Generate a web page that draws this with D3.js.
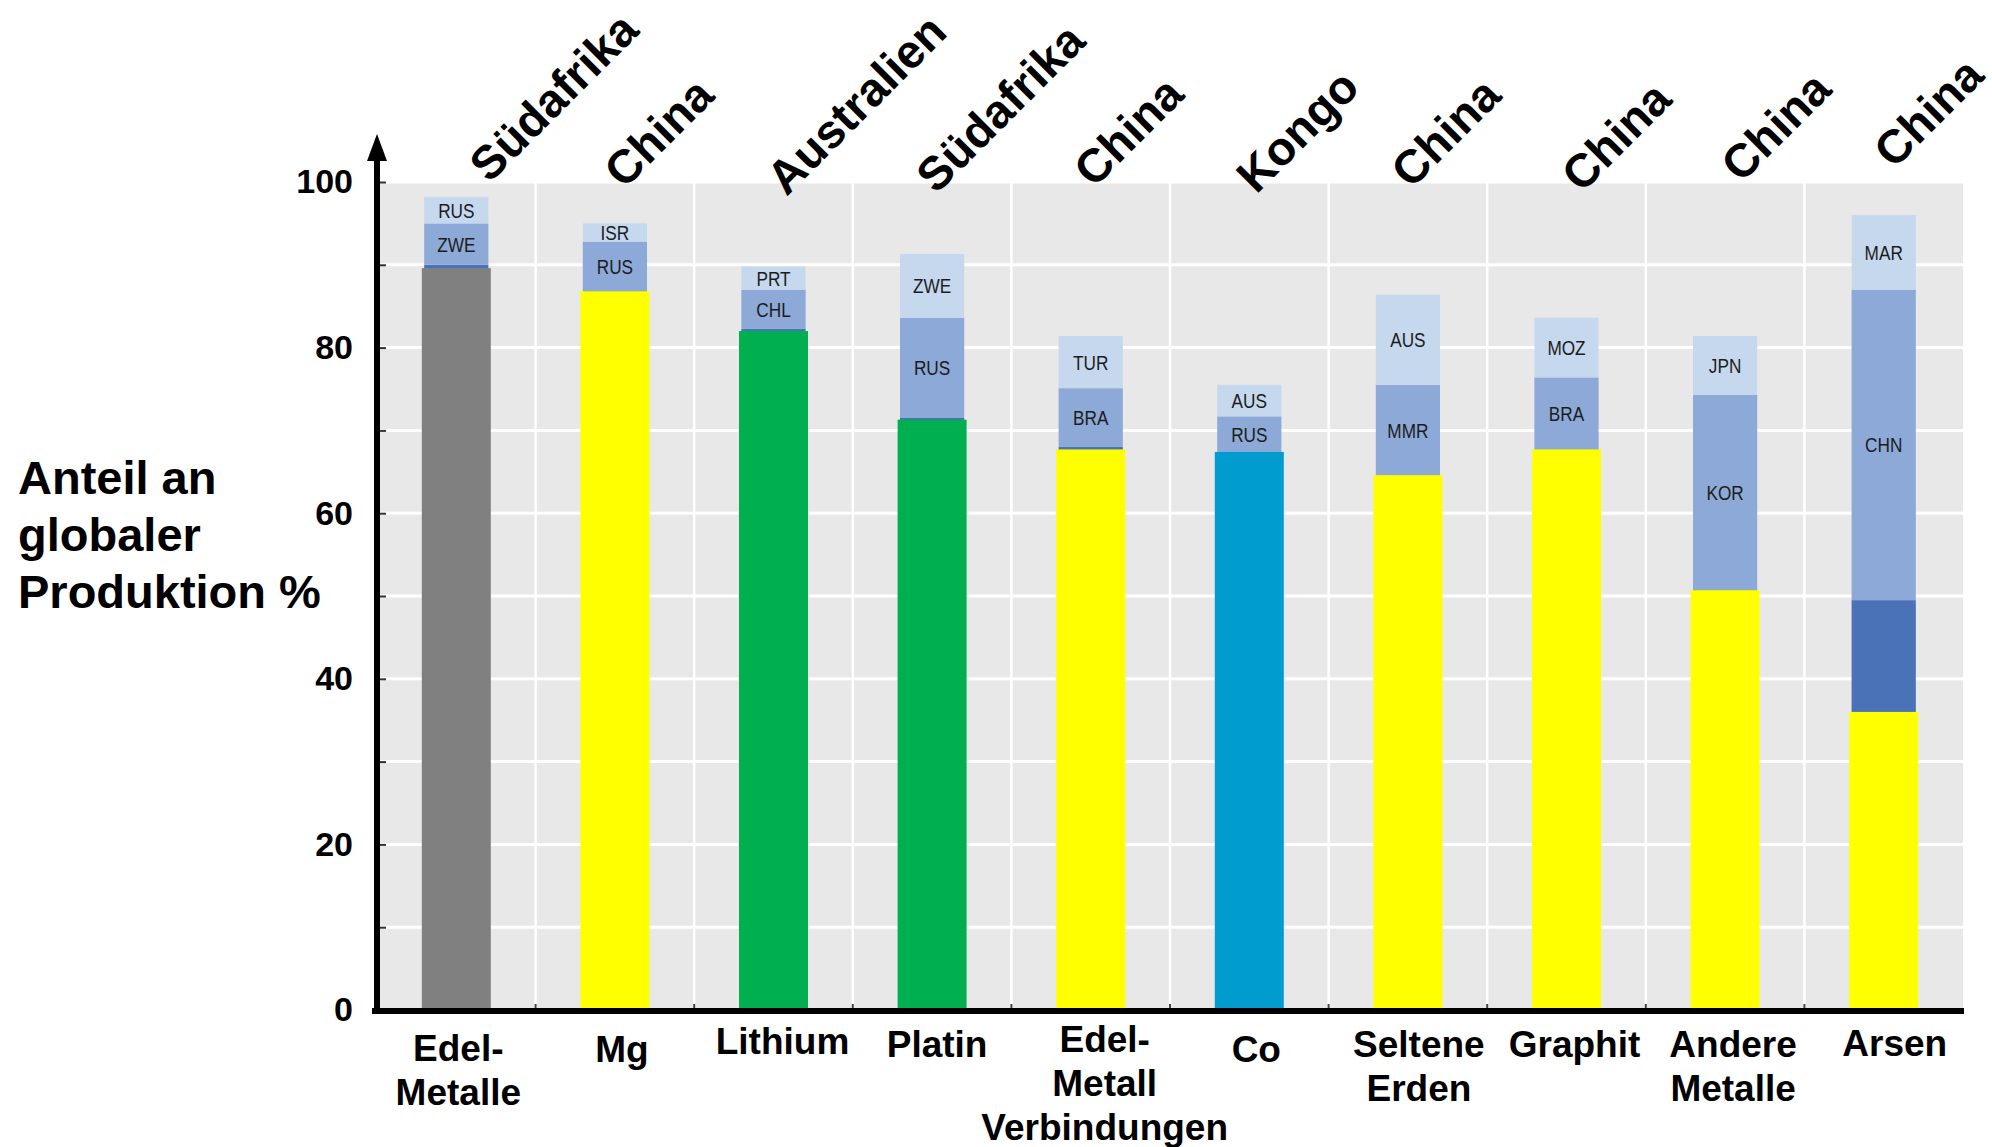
<!DOCTYPE html>
<html>
<head>
<meta charset="utf-8">
<script src="https://cdn.jsdelivr.net/npm/d3@7"></script>
<style>
  html, body { margin: 0; padding: 0; background: #ffffff; }
  svg { display: block; }
  text { font-family: "Liberation Sans", Arial, Helvetica, sans-serif; }
</style>
</head>
<body>
<svg id="chart" width="1992" height="1147"></svg>
<script>
// Raw materials (x categories) and their label lines
const categories = ["Edel-Metalle", "Mg", "Lithium", "Platin", "Edel-Metall Verbindungen",
                    "Co", "Seltene Erden", "Graphit", "Andere Metalle", "Arsen"];
const categoryLines = [["Edel-", "Metalle"], ["Mg"], ["Lithium"], ["Platin"],
                       ["Edel-", "Metall", "Verbindungen"], ["Co"], ["Seltene", "Erden"],
                       ["Graphit"], ["Andere", "Metalle"], ["Arsen"]];

// Leading producer country per raw material and its share (%)
const topProducer = ["Südafrika", "China", "Australien", "Südafrika", "China",
                     "Kongo", "China", "China", "China", "China"];
const topShare = [89.6, 86.8, 82.0, 71.3, 67.7, 67.4, 64.6, 67.7, 50.7, 36.0];

// Share of the first stacked block (dark blue, partly hidden behind the producer bar)
const leaderShare = [90.0, 86.8, 82.3, 71.5, 68.0, 67.4, 64.6, 67.7, 50.7, 49.5];

// Second and third producing countries and their shares (%)
const secondCountry = ["ZWE", "RUS", "CHL", "RUS", "BRA", "RUS", "MMR", "BRA", "KOR", "CHN"];
const secondShare = [5.0, 6.0, 4.7, 12.1, 7.1, 4.3, 10.9, 8.7, 23.6, 37.5];
const thirdCountry = ["RUS", "ISR", "PRT", "ZWE", "TUR", "AUS", "AUS", "MOZ", "JPN", "MAR"];
const thirdShare = [3.2, 2.2, 2.8, 7.7, 6.3, 3.8, 10.9, 7.2, 7.1, 9.0];

// Y axis ticks
const yLabelTicks = [0, 20, 40, 60, 80, 100];
const yMinorTicks = [0, 10, 20, 30, 40, 50, 60, 70, 80, 90, 100];

// Styling
const baseColors = ["#808080", "#ffff00", "#00b050", "#00b050", "#ffff00",
                    "#009bcf", "#ffff00", "#ffff00", "#ffff00", "#ffff00"];
const darkBlue = "#4a72b6", midBlue = "#8ca9d7", lightBlue = "#c5d8ee";
// hand placement offsets [dx, dy] for the rotated producer names and category labels
const producerNudge = [[33, 2], [9, 8], [13, 15], [4, 13], [3, 7],
                       [7, 13], [3, 8], [15, 12], [16, 2], [10, -12]];
const categoryNudge = [[-5, 3], [0, 4], [2, -4], [-2, -1], [7, -6],
                       [0, 4], [4, -1], [1, -1], [1, -1], [4, -2]];

const svg = d3.select("#chart");
const plotLeft = 377, plotRight = 1963, plotTop = 182, plotBottom = 1010;

const x = d3.scaleBand().domain(categories).range([plotLeft, plotRight]).padding(0);
const y = d3.scaleLinear().domain([0, 100]).range([plotBottom, plotTop]);
const bw = x.bandwidth();
const baseW = bw * 0.435;
const segW = bw * 0.405;
const cx = c => x(c) + bw / 2;

// Plot background
svg.append("rect")
  .attr("x", plotLeft).attr("y", y(100))
  .attr("width", plotRight - plotLeft).attr("height", y(0) - y(100))
  .attr("fill", "#e8e8e8");

// Horizontal gridlines
svg.append("g").selectAll("line").data(yMinorTicks).join("line")
  .attr("x1", plotLeft).attr("x2", plotRight)
  .attr("y1", d => y(d)).attr("y2", d => y(d))
  .attr("stroke", "#ffffff").attr("stroke-width", 3);

// Vertical separators between categories
svg.append("g").selectAll("line").data(categories.slice(1)).join("line")
  .attr("x1", d => x(d)).attr("x2", d => x(d))
  .attr("y1", y(100)).attr("y2", y(0))
  .attr("stroke", "#ffffff").attr("stroke-width", 2.5);

// Stacked country blocks
const rows = categories.map((c, i) => {
  const s1 = leaderShare[i];
  const s2 = s1 + secondShare[i];
  const s3 = s2 + thirdShare[i];
  return { c, i, s1, s2, s3 };
});

const bars = svg.append("g");
rows.forEach(r => {
  const xs = cx(r.c) - segW / 2;
  bars.append("rect").attr("x", xs).attr("width", segW)
    .attr("y", y(r.s1)).attr("height", y(0) - y(r.s1)).attr("fill", darkBlue);
  bars.append("rect").attr("x", xs).attr("width", segW)
    .attr("y", y(r.s2)).attr("height", y(r.s1) - y(r.s2)).attr("fill", midBlue);
  bars.append("rect").attr("x", xs).attr("width", segW)
    .attr("y", y(r.s3)).attr("height", y(r.s2) - y(r.s3)).attr("fill", lightBlue);
  // leading producer bar
  bars.append("rect").attr("x", cx(r.c) - baseW / 2).attr("width", baseW)
    .attr("y", y(topShare[r.i])).attr("height", y(0) - y(topShare[r.i]))
    .attr("fill", baseColors[r.i]);
});

// Country codes inside the blocks
const codeLabels = [];
rows.forEach(r => {
  codeLabels.push({ c: r.c, t: secondCountry[r.i], v: (r.s1 + r.s2) / 2 });
  codeLabels.push({ c: r.c, t: thirdCountry[r.i], v: (r.s2 + r.s3) / 2 });
});
svg.append("g").selectAll("text").data(codeLabels).join("text")
  .attr("transform", d => `translate(${cx(d.c)},${y(d.v)}) scale(0.82,1)`)
  .attr("text-anchor", "middle").attr("dy", "0.36em")
  .attr("font-size", 21).attr("fill", "#1c1c1c")
  .text(d => d.t);

// Y axis: ticks pointing into the plot, labels every 20
const yAxis = d3.axisLeft(y).tickValues(yMinorTicks).tickSize(-9).tickPadding(24)
  .tickFormat(d => yLabelTicks.includes(d) ? d : "");
const gy = svg.append("g").attr("transform", `translate(${plotLeft},0)`).call(yAxis);
gy.select(".domain").remove();
gy.selectAll(".tick line").attr("stroke", "#333").attr("stroke-width", 2);
gy.selectAll(".tick text").attr("font-size", 34).attr("font-weight", "bold")
  .attr("fill", "#000").attr("font-family", "Liberation Sans, Arial, sans-serif");

// X axis: small notches at category boundaries, multi-line labels
const xAxis = d3.axisBottom(x).tickSize(0).tickFormat("");
const gx = svg.append("g").attr("transform", `translate(0,${plotBottom})`).call(xAxis);
gx.select(".domain").remove();
svg.append("g").selectAll("line").data(categories.slice(1)).join("line")
  .attr("x1", d => x(d)).attr("x2", d => x(d))
  .attr("y1", plotBottom - 6).attr("y2", plotBottom)
  .attr("stroke", "#444").attr("stroke-width", 2);

const catText = svg.append("g").selectAll("text").data(categories).join("text")
  .attr("text-anchor", "middle")
  .attr("font-size", 37).attr("font-weight", "bold").attr("fill", "#000")
  .attr("transform", (d, i) =>
    `translate(${cx(d) + 7 + categoryNudge[i][0]},${1058 + categoryNudge[i][1]})`);
catText.each(function (d, i) {
  d3.select(this).selectAll("tspan").data(categoryLines[i]).join("tspan")
    .attr("x", 0).attr("y", (t, j) => j * 44).text(t => t);
});

// Axis lines
svg.append("line").attr("x1", plotLeft - 5).attr("x2", plotRight + 1)
  .attr("y1", plotBottom + 1).attr("y2", plotBottom + 1)
  .attr("stroke", "#000").attr("stroke-width", 6);
svg.append("line").attr("x1", plotLeft).attr("x2", plotLeft)
  .attr("y1", plotBottom + 4).attr("y2", 150)
  .attr("stroke", "#000").attr("stroke-width", 6);
svg.append("path")
  .attr("d", `M${plotLeft},134 L${plotLeft + 10},161 L${plotLeft - 10},161 Z`)
  .attr("fill", "#000");

// Leading producer names above the bars
svg.append("g").selectAll("text").data(categories).join("text")
  .attr("transform", (d, i) =>
    `translate(${cx(d) + producerNudge[i][0]},${182 + producerNudge[i][1]}) rotate(-45)`)
  .attr("font-size", 47).attr("font-weight", "bold").attr("fill", "#000")
  .text((d, i) => topProducer[i]);

// Y axis title
svg.append("text")
  .attr("x", 18).attr("y", 494)
  .attr("font-size", 47).attr("font-weight", "bold").attr("fill", "#000")
  .selectAll("tspan").data(["Anteil an", "globaler", "Produktion %"]).join("tspan")
  .attr("x", 18).attr("dy", (d, i) => i === 0 ? 0 : 57).text(d => d);
</script>
</body>
</html>
